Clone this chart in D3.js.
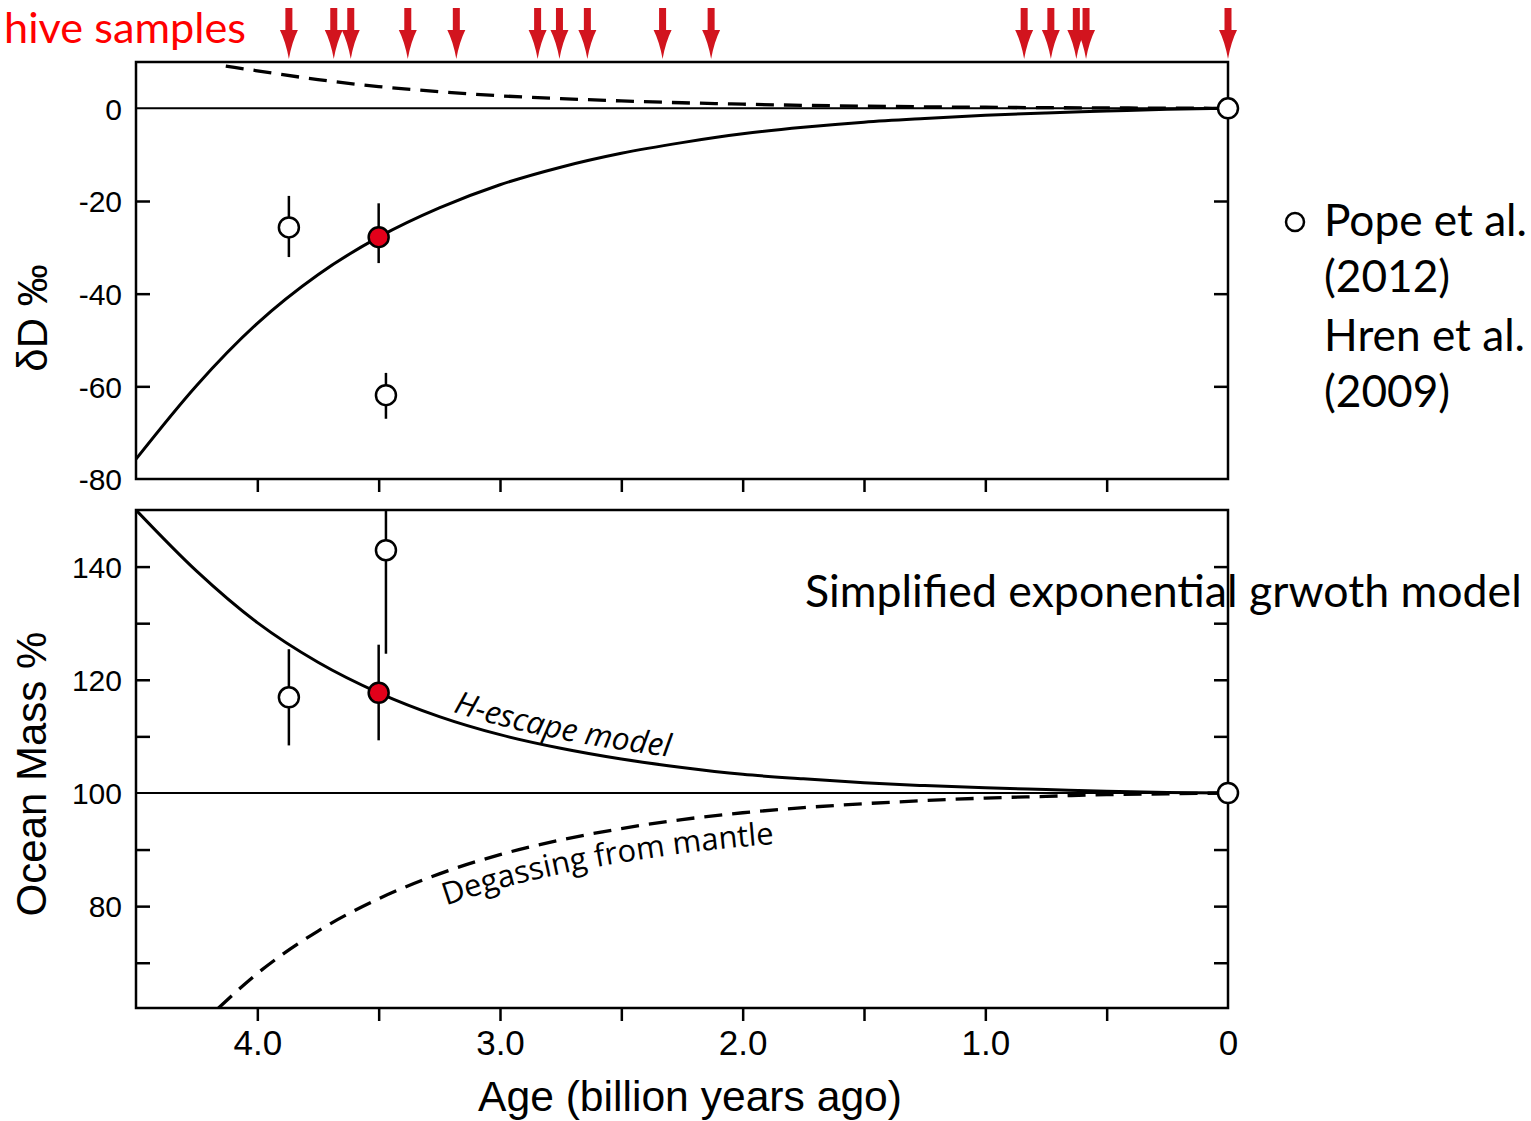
<!DOCTYPE html>
<meta charset="utf-8">
<style>
body { margin: 0; background: #fff; }
.axis text { font-family: "Liberation Sans", Arial, sans-serif; fill: #000; }
.axis line { stroke: #000; stroke-width: 2.5; }
.axis path { display: none; }
.frame { fill: none; stroke: #000; stroke-width: 2.5; }
.zero { stroke: #000; stroke-width: 2; }
.curve { fill: none; stroke: #000; stroke-width: 3; }
.dash { stroke-dasharray: 18 10; stroke-width: 3.3; }
.err { stroke: #000; stroke-width: 2.5; }
.pt { stroke: #000; stroke-width: 2.5; }
.cal { font-family: Lato, "Open Sans", sans-serif; }
</style>
<body>
<script src="https://d3js.org/d3.v7.min.js"></script>
<script>

var width = 1531,
    height = 1121;

// ages (Gyr ago) used for the model curves
var ages = [4.5, 4.25, 4.0, 3.75, 3.5, 3.25, 3.0, 2.75, 2.5, 2.25, 2.0, 1.75, 1.5, 1.25, 1.0, 0.75, 0.5, 0.25, 0];

// top panel: deltaD (permil)
var dDescape = [-75.7, -59.8, -46.4, -35.9, -27.8, -21.5, -16.5, -12.7, -9.7, -7.4, -5.5, -4.1, -3.0, -2.2, -1.5, -1.0, -0.6, -0.2, 0];
var dDdegasAges = [4.13, 4.0, 3.75, 3.5, 3.25, 3.0, 2.75, 2.5, 2.25, 2.0, 1.75, 1.5, 1.25, 1.0, 0.75, 0.5, 0.25, 0];
var dDdegas = [9.1, 8.1, 6.2, 4.7, 3.6, 2.7, 2.1, 1.6, 1.2, 0.9, 0.65, 0.47, 0.33, 0.23, 0.15, 0.09, 0.04, 0];

// bottom panel: ocean mass (%)
var massEscape = [150, 139.2, 130.1, 123.1, 117.7, 113.5, 110.3, 107.9, 106.0, 104.5, 103.3, 102.5, 101.8, 101.3, 100.9, 100.6, 100.3, 100.1, 100];
var massDegasAges = [4.16, 4.0, 3.75, 3.5, 3.25, 3.0, 2.75, 2.5, 2.25, 2.0, 1.75, 1.5, 1.25, 1.0, 0.75, 0.5, 0.25, 0];
var massDegas = [62, 68.1, 75.6, 81.3, 85.7, 89.1, 91.7, 93.7, 95.3, 96.5, 97.4, 98.1, 98.65, 99.1, 99.4, 99.7, 99.85, 100];

// measured samples: [age, value, low, high, filled]
var dDpoints = [
  [3.87, -25.7, -32.1, -18.9, false],
  [3.47, -61.9, -67.0, -57.1, false],
  [3.50, -27.8, -33.4, -20.5, true],
  [0, 0, 0, 0, false]
];
var massPoints = [
  [3.87, 116.9, 108.4, 125.4, false],
  [3.47, 142.9, 124.6, 161.0, false],
  [3.50, 117.7, 109.3, 126.2, true],
  [0, 100, 100, 100, false]
];

// archive sample ages (arrows)
var sampleAges = [3.87, 3.685, 3.615, 3.38, 3.18, 2.845, 2.755, 2.64, 2.33, 2.13, 0.84, 0.73, 0.625, 0.585, 0];

var ageTickMarks = [4.0, 3.5, 3.0, 2.5, 2.0, 1.5, 1.0, 0.5];
var ageLabels = [4.0, 3.0, 2.0, 1.0, 0];
var dDTickMarks = [-20, -40, -60];
var dDLabels = [0, -20, -40, -60, -80];
var massTickMarks = [70, 80, 90, 110, 120, 130, 140];
var massLabels = [80, 100, 120, 140];

var legendLines = ["Pope et al.", "(2012)", "Hren et al.", "(2009)"];

var svg = d3.select("body").append("svg")
    .attr("width", width)
    .attr("height", height);

svg.append("rect").attr("width", width).attr("height", height).attr("fill", "#fff");

var x = d3.scaleLinear().domain([4.5, 0]).range([136, 1228]);
var yTop = d3.scaleLinear().domain([-80, 10]).range([479, 62]);
var yBot = d3.scaleLinear().domain([62, 150]).range([1008, 510]);

var defs = svg.append("defs");
defs.append("clipPath").attr("id", "clipTop").append("rect")
    .attr("x", 136).attr("y", 62).attr("width", 1092).attr("height", 417);
defs.append("clipPath").attr("id", "clipBot").append("rect")
    .attr("x", 136).attr("y", 510).attr("width", 1092).attr("height", 498);

// plain hyphen for negatives, as in the original
var fmtInt = function(d) { return String(d); };

function panel(y, tickMarks, labels, clipId, zeroVal) {
  var g = svg.append("g");

  g.append("line").attr("class", "zero")
      .attr("x1", x.range()[0]).attr("x2", x.range()[1])
      .attr("y1", y(zeroVal)).attr("y2", y(zeroVal));

  g.append("g").attr("class", "axis")
      .attr("transform", "translate(" + x.range()[0] + ",0)")
      .call(d3.axisLeft(y).tickValues(tickMarks).tickSize(-14).tickFormat(""));
  g.append("g").attr("class", "axis")
      .attr("transform", "translate(" + x.range()[1] + ",0)")
      .call(d3.axisRight(y).tickValues(tickMarks).tickSize(-14).tickFormat(""));
  g.append("g").attr("class", "axis")
      .attr("transform", "translate(0," + y.range()[0] + ")")
      .call(d3.axisTop(x).tickValues(ageTickMarks).tickSize(-13).tickFormat(""));

  g.append("g").attr("class", "axis")
      .attr("transform", "translate(" + x.range()[0] + ",0)")
      .call(d3.axisLeft(y).tickValues(labels).tickSize(0).tickPadding(14).tickFormat(fmtInt))
      .selectAll("text").attr("font-size", 30).attr("dy", "0.36em");

  g.append("rect").attr("class", "frame")
      .attr("x", x.range()[0]).attr("y", y.range()[1])
      .attr("width", x.range()[1] - x.range()[0])
      .attr("height", y.range()[0] - y.range()[1]);
  return g;
}

var gTop = panel(yTop, dDTickMarks, dDLabels, "clipTop", 0);
var gBot = panel(yBot, massTickMarks, massLabels, "clipBot", 100);

function lineFor(y, dy) {
  return d3.line()
      .x(function(d) { return x(d[0]); })
      .y(function(d) { return y(d[1]) + (dy || 0); })
      .curve(d3.curveMonotoneX);
}

function drawCurve(g, y, agesArr, vals, dashed, clipId) {
  var data = agesArr.map(function(a, i) { return [a, vals[i]]; });
  g.append("path").datum(data)
      .attr("class", "curve" + (dashed ? " dash" : ""))
      .attr("clip-path", "url(#" + clipId + ")")
      .attr("d", lineFor(y));
  return data;
}

drawCurve(gTop, yTop, ages, dDescape, false, "clipTop");
drawCurve(gTop, yTop, dDdegasAges, dDdegas, true, "clipTop");
var escData = drawCurve(gBot, yBot, ages, massEscape, false, "clipBot");
var degData = drawCurve(gBot, yBot, massDegasAges, massDegas, true, "clipBot");

function drawPoints(g, y, pts, clipId) {
  g.append("g").attr("clip-path", "url(#" + clipId + ")")
    .selectAll("line").data(pts).enter().append("line")
      .attr("class", "err")
      .attr("x1", function(d) { return x(d[0]); })
      .attr("x2", function(d) { return x(d[0]); })
      .attr("y1", function(d) { return y(d[2]); })
      .attr("y2", function(d) { return y(d[3]); });
  g.append("g").selectAll("circle").data(pts).enter().append("circle")
      .attr("class", "pt")
      .attr("cx", function(d) { return x(d[0]); })
      .attr("cy", function(d) { return y(d[1]); })
      .attr("r", 10)
      .attr("fill", function(d) { return d[4] ? "#e2001a" : "#fff"; });
}

drawPoints(gTop, yTop, dDpoints, "clipTop");
drawPoints(gBot, yBot, massPoints, "clipBot");

// curve labels following the model lines
defs.append("path").attr("id", "escPath")
    .attr("d", lineFor(yBot, -9)(escData.filter(function(d) { return d[0] <= 3.25; })));
defs.append("path").attr("id", "degPath")
    .attr("d", lineFor(yBot, 34)(degData.filter(function(d) { return d[0] <= 3.25; })));

svg.append("text")
    .attr("font-family", "'Open Sans', sans-serif")
    .attr("font-style", "italic")
    .attr("font-size", 31.5)
  .append("textPath")
    .attr("href", "#escPath")
    .attr("startOffset", 14)
    .text("H-escape model");

svg.append("text")
    .attr("font-family", "'Open Sans', sans-serif")
    .attr("font-size", 31)
  .append("textPath")
    .attr("href", "#degPath")
    .attr("startOffset", 7)
    .text("Degassing from mantle");

// x axis labels
svg.append("g").attr("class", "axis")
    .attr("transform", "translate(0," + yBot.range()[0] + ")")
    .call(d3.axisBottom(x).tickValues(ageLabels).tickSize(0).tickPadding(22)
      .tickFormat(function(d) { return d === 0 ? "0" : d3.format(".1f")(d); }))
    .selectAll("text").attr("font-size", 35);

// scale a text so it spans a measured width
function fit(sel, w) {
  var cur = sel.node().getComputedTextLength();
  var fs = +sel.attr("font-size");
  sel.attr("font-size", fs * w / cur);
  return fs * w / cur;
}

var ageTitle = svg.append("text")
    .attr("x", 690).attr("y", 1111)
    .attr("text-anchor", "middle")
    .attr("font-family", "'Liberation Sans', Arial, sans-serif")
    .attr("font-size", 41)
    .text("Age (billion years ago)");
fit(ageTitle, 424);

svg.append("text")
    .attr("transform", "translate(47,318) rotate(-90)")
    .attr("text-anchor", "middle")
    .attr("font-family", "'Liberation Sans', Arial, sans-serif")
    .attr("font-size", 42)
    .text("δD ‰");

svg.append("text")
    .attr("transform", "translate(46,774) rotate(-90)")
    .attr("text-anchor", "middle")
    .attr("font-family", "'Liberation Sans', Arial, sans-serif")
    .attr("font-size", 42)
    .text("Ocean Mass %");

// archive sample arrows
var arrows = svg.append("g").attr("fill", "#d2141e");
arrows.selectAll("rect").data(sampleAges).enter().append("rect")
    .attr("x", function(d) { return x(d) - 3.5; })
    .attr("y", 8).attr("width", 7).attr("height", 24);
arrows.selectAll("path").data(sampleAges).enter().append("path")
    .attr("d", function(d) {
      var cx = x(d);
      return "M" + (cx - 9) + ",30L" + (cx + 9) + ",30Q" + (cx + 3) + ",42 " + cx + ",59Q" + (cx - 3) + ",42 " + (cx - 9) + ",30Z";
    });

var hive = svg.append("text").attr("class", "cal")
    .attr("x", 246).attr("y", 43)
    .attr("text-anchor", "end")
    .attr("fill", "#ff0000")
    .attr("font-size", 40)
    .text("hive samples");
fit(hive, 242);

var simp = svg.append("text").attr("class", "cal")
    .attr("x", 805).attr("y", 607)
    .attr("font-size", 40)
    .text("Simplified exponential grwoth model");
fit(simp, 717);

var legend = svg.append("g");
legend.append("circle")
    .attr("cx", 1295).attr("cy", 222).attr("r", 9)
    .attr("fill", "#fff").attr("stroke", "#000").attr("stroke-width", 2.5);
var legText = legend.selectAll("text").data(legendLines).enter().append("text")
    .attr("class", "cal")
    .attr("x", 1324)
    .attr("y", function(d, i) { return [236, 292, 351, 407][i]; })
    .attr("font-size", 40)
    .text(function(d) { return d; });
var lfs = fit(d3.select(legText.nodes()[0]), 203);
legText.attr("font-size", lfs);

</script>
